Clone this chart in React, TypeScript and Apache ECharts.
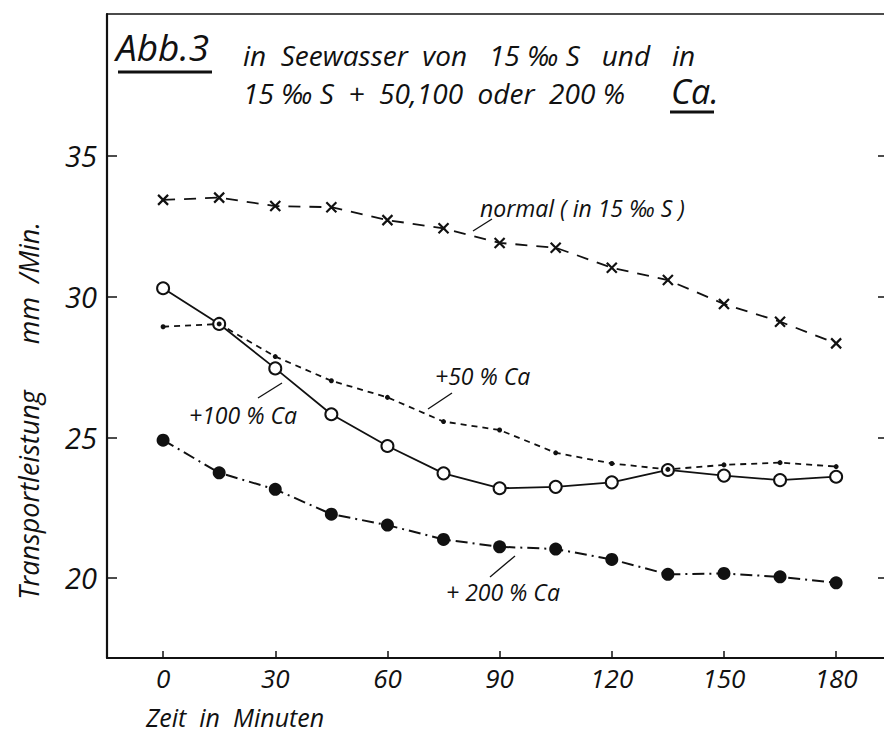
import React, { useEffect, useRef } from "react";
import * as echarts from "echarts";

const minutes = [0, 15, 30, 45, 60, 75, 90, 105, 120, 135, 150, 165, 180];
const normalValues = [33.44, 33.52, 33.22, 33.18, 32.72, 32.43, 31.91, 31.74, 31.03, 30.59, 29.74, 29.11, 28.34];
const ca50Values = [28.93, 29.03, 27.87, 27.01, 26.42, 25.56, 25.26, 24.45, 24.07, 23.86, 24.02, 24.1, 23.96];
const ca100Values = [30.3, 29.03, 27.45, 25.82, 24.69, 23.72, 23.19, 23.24, 23.4, 23.84, 23.64, 23.48, 23.6];
const ca200Values = [24.9, 23.74, 23.15, 22.27, 21.88, 21.37, 21.11, 21.03, 20.66, 20.13, 20.16, 20.04, 19.83];
const xTicks = [0, 30, 60, 90, 120, 150, 180];
const yTicks = [20, 25, 30, 35];

const titleAbb = "Abb.3";
const titleLine1 = "in  Seewasser  von   15 ‰ S   und   in";
const titleLine2 = "15 ‰ S  +  50,100  oder  200 %";
const titleCa = "Ca.";
const xName = "Zeit  in  Minuten";
const yName1 = "Transportleistung";
const yName2 = "mm  /Min.";
const labelNormal = "normal ( in 15 ‰ S )";
const label50 = "+50 % Ca";
const label100 = "+100 % Ca";
const label200 = "+ 200 % Ca";

const FONT = '"Open Sans", sans-serif';
const INK = "#111";

const pairs = (vals: number[]) => minutes.map((m, i) => [m, vals[i]]);

export default function App() {
  const ref = useRef<HTMLDivElement>(null);
  useEffect(() => {
    document.body.style.margin = "0";
    const chart = echarts.init(ref.current!, null, { renderer: "svg" });
    const txt = (text: string, x: number, y: number, size: number, extra: any = {}) => ({
      type: "text",
      x,
      y,
      rotation: extra.rotation || 0,
      style: {
        text,
        fill: INK,
        font: `italic ${extra.weight || "normal"} ${size}px ${FONT}`,
        align: extra.align || "left",
        verticalAlign: "middle",
      },
    });
    const ln = (x1: number, y1: number, x2: number, y2: number, w = 1.3) => ({
      type: "line",
      shape: { x1, y1, x2, y2 },
      style: { stroke: INK, lineWidth: w },
    });
    chart.setOption({
      animation: false,
      backgroundColor: "#fff",
      grid: { left: 107, top: 14, right: 0, bottom: 76 },
      xAxis: [
        {
          type: "value",
          min: -15,
          max: 192.8,
          position: "bottom",
          axisLine: { show: true, onZero: false, lineStyle: { color: INK, width: 2 } },
          axisTick: { show: true, inside: true, length: 7, customValues: xTicks, lineStyle: { color: INK, width: 1.5 } },
          axisLabel: {
            customValues: xTicks,
            margin: 7,
            color: INK,
            fontSize: 26,
            fontStyle: "italic",
            fontFamily: FONT,
          },
          splitLine: { show: false },
        },
        {
          type: "value",
          min: -15,
          max: 192.8,
          position: "top",
          axisLine: { show: true, onZero: false, lineStyle: { color: INK, width: 1.5 } },
          axisTick: { show: false },
          axisLabel: { show: false },
          splitLine: { show: false },
        },
      ],
      yAxis: [
        {
          type: "value",
          min: 17.156,
          max: 40.047,
          position: "left",
          axisLine: { show: true, onZero: false, lineStyle: { color: INK, width: 2.2 } },
          axisTick: { show: true, inside: true, length: 10, customValues: yTicks, lineStyle: { color: INK, width: 1.5 } },
          axisLabel: {
            customValues: yTicks,
            margin: 10,
            color: INK,
            fontSize: 29,
            fontStyle: "italic",
            fontFamily: FONT,
          },
          splitLine: { show: false },
        },
        {
          type: "value",
          min: 17.156,
          max: 40.047,
          position: "right",
          axisLine: { show: false, onZero: false },
          axisTick: { show: true, inside: true, length: 6, customValues: yTicks, lineStyle: { color: INK, width: 1.5 } },
          axisLabel: { show: false },
          splitLine: { show: false },
        },
      ],
      series: [
        {
          name: "normal",
          type: "line",
          data: pairs(normalValues),
          symbol: "path://M0,0L10,10M10,0L0,10",
          symbolSize: 10,
          itemStyle: { color: INK, borderColor: INK, borderWidth: 2.2 },
          lineStyle: { color: INK, width: 1.8, type: [12, 9] },
        },
        {
          name: "+200",
          type: "line",
          data: pairs(ca200Values),
          symbol: "circle",
          symbolSize: 13,
          itemStyle: { color: INK },
          lineStyle: { color: INK, width: 2, type: [12, 5, 2, 5] },
        },
        {
          name: "+100",
          type: "line",
          data: pairs(ca100Values),
          symbol: "circle",
          symbolSize: 12,
          itemStyle: { color: "#fff", borderColor: INK, borderWidth: 2 },
          lineStyle: { color: INK, width: 1.8 },
        },
        {
          name: "+50",
          type: "line",
          data: pairs(ca50Values),
          symbol: "circle",
          symbolSize: 5,
          itemStyle: { color: INK },
          lineStyle: { color: INK, width: 1.8, type: [6, 5] },
        },
      ],
      graphic: [
        txt(titleAbb, 116, 46, 37),
        ln(118, 72, 212, 72, 3),
        txt(titleLine1, 243, 55, 28),
        txt(titleLine2, 243, 93, 28),
        txt(titleCa, 671, 91, 34),
        ln(670, 112, 714, 112, 3),
        txt(xName, 146, 717, 25),
        txt(yName1, 28, 495, 27, { rotation: Math.PI / 2, align: "center" }),
        txt(yName2, 28, 283, 27, { rotation: Math.PI / 2, align: "center" }),
        txt(labelNormal, 480, 208, 23),
        ln(473, 231, 492, 219),
        txt(label50, 435, 376, 23),
        ln(428, 409, 452, 393),
        txt(label100, 189, 415, 23),
        ln(258, 398, 282, 383),
        txt(label200, 446, 592, 23),
        ln(490, 577, 515, 556),
      ],
    });
    return () => chart.dispose();
  }, []);
  return <div ref={ref} style={{ position: "absolute", left: 0, top: 0, width: 884, height: 734 }} />;
}
